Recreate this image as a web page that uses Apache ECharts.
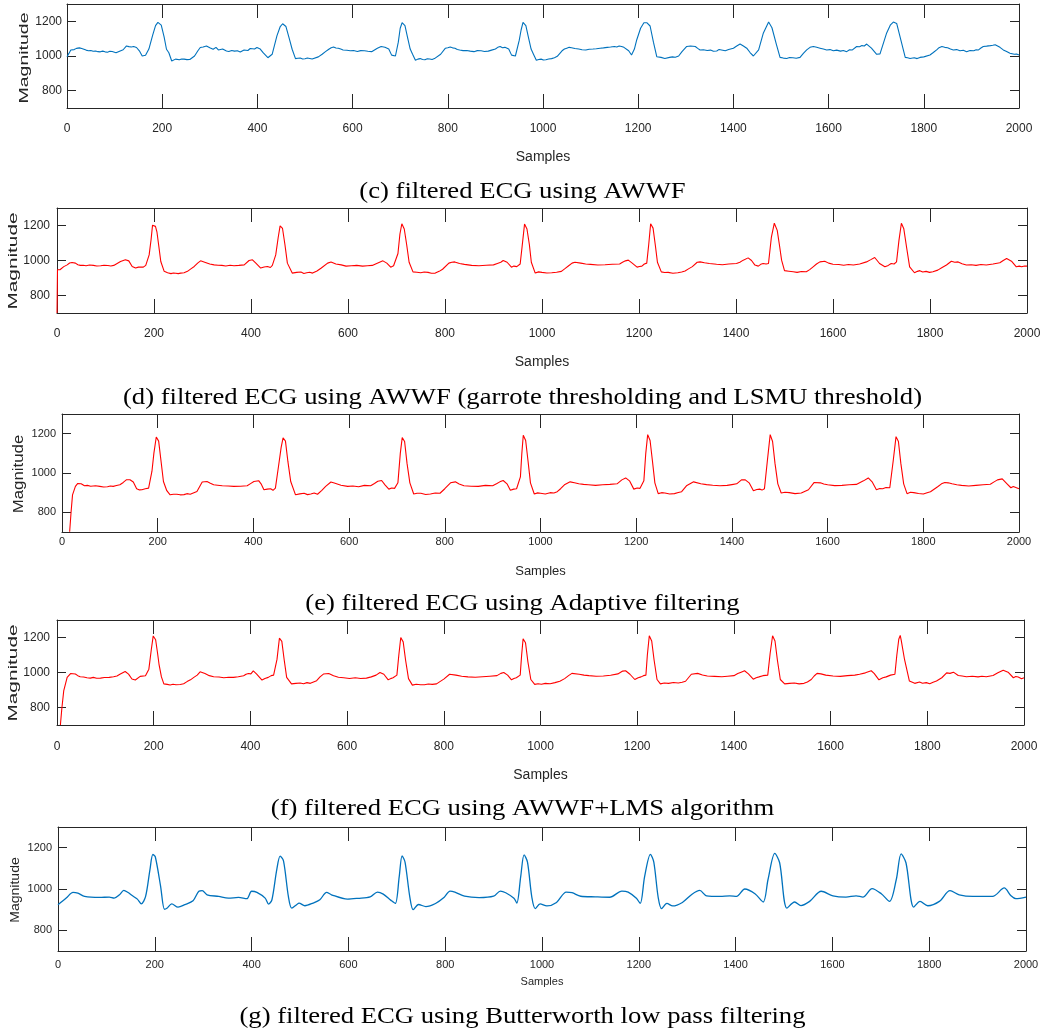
<!DOCTYPE html>
<html>
<head>
<meta charset="utf-8">
<script src="https://cdn.jsdelivr.net/npm/echarts@6/dist/echarts.min.js"></script>
<style>
html,body{margin:0;padding:0;background:#fff;}
#chart{width:1045px;height:1034px;}
</style>
</head>
<body>
<div id="chart"></div>
<script>
// ---------- data ----------
const xMin = 0, xMax = 2000, xStep = 200;
const yMin = 700, yMax = 1300;
const yTickValues = [800, 1000, 1200];
const xAxisTitle = 'Samples';
const yAxisTitle = 'Magnitude';
const captions = [
  '(c) filtered ECG using AWWF',
  '(d) filtered ECG using AWWF (garrote thresholding and LSMU threshold)',
  '(e) filtered ECG using Adaptive filtering',
  '(f) filtered ECG using AWWF+LMS algorithm',
  '(g) filtered ECG using Butterworth low pass filtering'
];

const sigC = [[0,996],[4,1015],[8,1035],[15,1037],[20,1044],[26,1047],[31,1043],[35,1040],[40,1034],[45,1030],[50,1032],[55,1027],[60,1029],[65,1025],[70,1024],[75,1028],[80,1024],[85,1022],[90,1027],[95,1026],[99,1022],[103,1019],[108,1025],[112,1032],[118,1036],[125,1058],[130,1054],[135,1052],[140,1055],[146,1049],[152,1030],[158,1000],[165,1004],[172,1040],[180,1120],[186,1175],[191,1194],[198,1178],[204,1110],[209,1039],[214,1019],[220,971],[228,982],[232,979],[236,978],[241,983],[246,982],[252,979],[258,980],[268,1000],[275,1030],[280,1049],[286,1052],[293,1058],[300,1048],[307,1039],[313,1050],[318,1035],[322,1029],[327,1040],[330,1035],[335,1029],[340,1026],[346,1032],[352,1028],[358,1030],[364,1023],[368,1030],[372,1035],[376,1028],[380,1032],[385,1043],[389,1045],[394,1040],[399,1049],[406,1040],[412,1019],[422,990],[431,1010],[441,1116],[448,1170],[453,1186],[460,1170],[467,1100],[473,1039],[480,985],[485,987],[490,988],[495,983],[500,984],[505,988],[510,986],[515,983],[519,985],[528,995],[536,1010],[543,1025],[550,1039],[555,1048],[560,1052],[565,1046],[570,1045],[575,1040],[580,1035],[588,1033],[595,1030],[602,1032],[610,1026],[617,1031],[625,1030],[632,1027],[640,1025],[646,1035],[652,1045],[660,1055],[668,1050],[676,1040],[682,1005],[690,1000],[696,1080],[700,1160],[704,1192],[710,1175],[716,1100],[721,1040],[726,1010],[732,975],[737,982],[742,985],[747,980],[752,978],[757,984],[762,983],[767,980],[772,985],[785,1010],[795,1045],[800,1048],[805,1052],[810,1047],[815,1045],[820,1038],[825,1035],[832,1031],[840,1032],[847,1028],[855,1025],[862,1031],[870,1030],[877,1026],[885,1028],[892,1034],[900,1040],[905,1050],[910,1055],[915,1048],[920,1050],[928,1040],[934,1005],[942,1000],[950,1090],[954,1150],[958,1194],[964,1175],[970,1100],[975,1040],[980,1010],[986,975],[991,980],[996,982],[1001,977],[1006,978],[1012,983],[1018,985],[1024,990],[1030,998],[1040,1030],[1045,1040],[1050,1045],[1055,1050],[1060,1048],[1067,1043],[1075,1040],[1082,1036],[1090,1035],[1097,1039],[1105,1040],[1112,1042],[1120,1045],[1127,1047],[1135,1050],[1142,1052],[1150,1055],[1155,1052],[1160,1058],[1165,1055],[1170,1050],[1180,1030],[1186,1006],[1192,1040],[1197,1094],[1205,1160],[1212,1192],[1218,1192],[1225,1173],[1232,1080],[1239,996],[1243,986],[1248,992],[1252,990],[1256,986],[1260,990],[1266,992],[1272,995],[1278,993],[1285,1000],[1292,1025],[1302,1055],[1310,1058],[1320,1055],[1325,1044],[1330,1035],[1337,1036],[1345,1032],[1352,1034],[1358,1027],[1365,1029],[1370,1038],[1375,1035],[1379,1026],[1383,1030],[1390,1037],[1400,1045],[1407,1058],[1414,1069],[1421,1058],[1428,1045],[1435,1020],[1442,1000],[1453,1035],[1463,1133],[1474,1196],[1481,1163],[1490,1070],[1498,992],[1505,988],[1512,986],[1518,991],[1525,990],[1532,987],[1540,992],[1547,1015],[1554,1035],[1561,1050],[1568,1055],[1575,1050],[1582,1045],[1589,1040],[1596,1035],[1603,1037],[1610,1030],[1617,1034],[1625,1028],[1631,1032],[1638,1025],[1644,1036],[1650,1035],[1659,1055],[1665,1053],[1670,1060],[1675,1058],[1680,1069],[1690,1045],[1701,1010],[1708,1012],[1722,1133],[1730,1180],[1736,1196],[1743,1188],[1752,1090],[1761,992],[1766,990],[1771,986],[1775,995],[1780,990],[1786,985],[1792,992],[1800,995],[1813,1006],[1820,1020],[1827,1035],[1832,1048],[1838,1055],[1844,1050],[1850,1048],[1856,1040],[1862,1035],[1869,1037],[1876,1030],[1883,1033],[1890,1025],[1897,1032],[1905,1030],[1910,1036],[1915,1035],[1920,1046],[1925,1055],[1932,1057],[1940,1060],[1945,1062],[1950,1065],[1955,1058],[1960,1050],[1967,1035],[1974,1026],[1981,1016],[1990,1010],[1995,1012],[2000,1006]];

const sigD = [[0,700],[1,947],[6,947],[14,965],[21,975],[26,986],[31,989],[38,985],[43,976],[48,972],[54,973],[60,970],[67,974],[75,972],[82,969],[90,970],[97,973],[105,971],[111,969],[117,972],[124,983],[131,994],[141,1004],[148,998],[155,966],[162,957],[168,962],[172,966],[178,962],[183,972],[190,1032],[194,1120],[197,1202],[200,1211],[203,1195],[206,1164],[210,1080],[214,994],[221,938],[228,930],[235,925],[240,929],[245,927],[250,925],[255,928],[262,930],[269,938],[276,952],[283,966],[290,985],[296,998],[306,989],[315,980],[324,975],[332,973],[340,972],[348,969],[357,973],[365,970],[375,972],[386,975],[396,1000],[403,1004],[410,985],[420,957],[427,963],[434,966],[440,960],[444,972],[451,1032],[456,1130],[460,1198],[465,1183],[470,1090],[475,985],[485,928],[494,932],[503,934],[509,926],[515,930],[521,933],[527,928],[536,940],[545,957],[558,985],[565,991],[575,980],[586,975],[596,968],[607,970],[618,972],[630,968],[640,970],[650,972],[658,982],[665,990],[672,998],[680,985],[688,962],[694,970],[698,968],[703,1040],[707,1150],[711,1210],[716,1180],[721,1090],[726,990],[734,935],[742,933],[750,930],[757,934],[765,932],[772,927],[780,928],[788,938],[795,950],[808,985],[814,990],[820,992],[830,983],[840,978],[855,972],[870,970],[885,973],[900,975],[908,983],[915,990],[920,1000],[928,990],[937,962],[942,968],[948,965],[955,980],[959,1080],[964,1208],[969,1180],[974,1090],[978,990],[986,928],[993,935],[1000,932],[1010,929],[1020,930],[1030,933],[1040,938],[1048,955],[1055,970],[1062,985],[1068,990],[1080,985],[1090,980],[1100,978],[1115,974],[1130,976],[1145,979],[1160,980],[1166,990],[1172,998],[1178,1002],[1186,985],[1196,962],[1201,966],[1206,968],[1211,980],[1216,985],[1220,1090],[1224,1210],[1229,1185],[1234,1080],[1238,990],[1246,935],[1253,931],[1260,932],[1270,927],[1280,930],[1288,934],[1295,940],[1302,952],[1310,965],[1320,990],[1326,992],[1335,987],[1345,983],[1360,979],[1372,976],[1385,980],[1401,983],[1408,990],[1415,1002],[1425,1015],[1432,1000],[1439,974],[1446,968],[1451,978],[1456,983],[1462,980],[1467,983],[1473,1134],[1479,1213],[1485,1172],[1490,1080],[1494,1002],[1500,942],[1509,939],[1518,936],[1526,932],[1535,937],[1545,936],[1552,948],[1559,964],[1566,980],[1573,992],[1583,996],[1591,985],[1600,979],[1612,977],[1622,973],[1632,977],[1642,974],[1655,980],[1669,992],[1678,1005],[1686,1017],[1696,983],[1707,964],[1714,972],[1720,983],[1726,980],[1731,992],[1736,1115],[1741,1213],[1746,1181],[1752,1070],[1758,964],[1768,930],[1774,938],[1779,942],[1785,934],[1792,938],[1799,932],[1806,936],[1816,945],[1825,960],[1834,974],[1844,996],[1851,990],[1858,992],[1866,982],[1875,974],[1885,976],[1895,972],[1905,977],[1916,974],[1930,980],[1944,987],[1951,1000],[1958,1011],[1968,996],[1978,964],[1984,968],[1989,964],[1995,969],[2000,968]];

const sigE = [[16,701],[19,803],[22,889],[28,932],[33,947],[40,945],[47,935],[53,937],[60,933],[70,935],[79,932],[87,929],[95,930],[101,934],[107,932],[114,936],[121,940],[128,952],[135,966],[142,966],[149,954],[156,920],[162,914],[167,915],[174,920],[181,923],[188,1009],[192,1100],[197,1183],[202,1162],[207,1060],[212,957],[219,910],[226,889],[233,892],[240,892],[247,889],[255,890],[261,895],[268,892],[282,906],[293,954],[303,957],[310,948],[317,940],[325,938],[335,935],[347,934],[359,932],[373,933],[387,935],[394,946],[401,957],[411,961],[416,945],[422,915],[429,918],[436,920],[441,912],[446,923],[453,1043],[458,1130],[462,1179],[467,1162],[472,1060],[478,957],[488,889],[497,894],[506,897],[513,890],[520,893],[527,898],[534,892],[543,912],[551,932],[562,954],[569,949],[583,938],[597,932],[608,934],[620,930],[632,937],[645,935],[653,947],[660,958],[668,962],[675,940],[683,918],[689,924],[695,922],[702,950],[707,1100],[711,1180],[716,1160],[721,1050],[727,950],[735,893],[742,897],[750,897],[760,891],[770,893],[780,898],[790,897],[800,920],[812,950],[822,955],[830,944],[840,935],[855,933],[870,932],[885,937],[900,935],[908,945],[915,955],[922,962],[930,945],[937,912],[944,918],[950,920],[958,980],[961,1100],[964,1192],[969,1165],[974,1060],[979,950],[987,893],[994,899],[1000,897],[1010,893],[1020,900],[1028,898],[1035,905],[1042,920],[1050,940],[1062,955],[1071,950],[1080,945],[1090,942],[1100,940],[1115,937],[1130,940],[1145,942],[1160,945],[1170,965],[1178,975],[1186,960],[1195,918],[1202,924],[1208,922],[1216,960],[1220,1100],[1224,1195],[1229,1165],[1234,1060],[1239,950],[1246,895],[1253,900],[1260,898],[1270,893],[1280,895],[1288,901],[1295,905],[1305,935],[1320,955],[1335,945],[1347,941],[1360,938],[1375,935],[1390,937],[1400,941],[1410,945],[1420,965],[1428,965],[1436,950],[1445,910],[1452,916],[1458,918],[1463,913],[1468,920],[1474,1060],[1480,1195],[1485,1160],[1490,1050],[1496,945],[1503,898],[1511,902],[1520,900],[1532,895],[1545,898],[1560,915],[1572,952],[1585,950],[1592,944],[1600,940],[1615,936],[1630,937],[1645,940],[1660,942],[1668,952],[1675,960],[1685,975],[1693,955],[1702,915],[1709,921],[1715,920],[1722,926],[1730,925],[1737,1060],[1743,1185],[1748,1160],[1753,1050],[1759,945],[1766,895],[1773,902],[1780,900],[1790,896],[1800,893],[1808,900],[1815,905],[1830,930],[1838,945],[1845,952],[1852,950],[1860,945],[1870,940],[1880,937],[1895,934],[1910,937],[1925,940],[1940,943],[1948,955],[1955,965],[1965,970],[1975,945],[1983,925],[1988,931],[1992,928],[1996,924],[2000,920]];

const sigF = [[7,700],[10,794],[14,897],[21,972],[28,994],[38,991],[43,982],[48,976],[55,974],[62,970],[69,968],[75,972],[82,967],[90,968],[98,971],[108,972],[117,976],[124,980],[131,991],[141,1006],[148,991],[155,963],[162,957],[172,978],[183,981],[190,1019],[195,1130],[199,1209],[204,1187],[208,1110],[211,1047],[216,975],[221,935],[228,932],[234,929],[240,933],[246,930],[255,931],[262,936],[269,948],[276,958],[283,972],[290,985],[296,1004],[306,994],[315,982],[324,976],[335,974],[345,970],[355,973],[365,972],[375,976],[386,981],[391,990],[396,994],[401,992],[406,1009],[413,991],[424,957],[430,966],[437,972],[443,982],[448,985],[455,1075],[460,1196],[465,1178],[470,1070],[475,972],[485,935],[494,938],[503,940],[510,936],[517,942],[524,938],[537,953],[544,975],[551,991],[562,994],[572,981],[582,973],[593,970],[605,966],[617,970],[628,966],[640,968],[650,975],[660,985],[668,1000],[676,990],[685,958],[690,965],[695,970],[703,985],[707,1100],[711,1200],[716,1175],[721,1070],[727,965],[735,928],[743,933],[752,930],[760,930],[768,934],[776,932],[785,935],[792,948],[800,962],[812,990],[825,985],[837,979],[850,975],[865,973],[880,976],[895,979],[910,982],[918,995],[924,1000],[932,985],[940,958],[945,966],[950,970],[958,985],[961,1100],[964,1192],[969,1170],[974,1060],[980,960],[988,932],[995,936],[1002,933],[1010,938],[1020,936],[1030,942],[1040,950],[1050,965],[1058,982],[1065,995],[1080,990],[1090,985],[1100,982],[1115,979],[1130,980],[1145,984],[1160,992],[1170,1008],[1176,1010],[1185,990],[1195,960],[1202,970],[1208,975],[1213,982],[1218,985],[1221,1100],[1225,1210],[1230,1180],[1235,1070],[1241,960],[1248,935],[1256,940],[1265,938],[1275,943],[1285,940],[1293,944],[1300,950],[1306,970],[1312,990],[1325,995],[1335,986],[1345,980],[1360,978],[1375,976],[1387,979],[1400,982],[1408,994],[1415,1002],[1422,1010],[1430,992],[1440,962],[1446,970],[1452,975],[1460,982],[1470,985],[1475,1110],[1480,1210],[1485,1180],[1490,1070],[1496,960],[1505,935],[1515,938],[1525,940],[1535,935],[1545,938],[1552,946],[1560,960],[1566,980],[1572,995],[1580,992],[1590,985],[1605,980],[1620,978],[1635,982],[1650,985],[1660,990],[1672,998],[1684,1010],[1690,995],[1700,958],[1708,970],[1715,975],[1724,985],[1733,990],[1737,1100],[1741,1190],[1744,1212],[1746,1185],[1753,1073],[1763,951],[1774,938],[1784,946],[1790,939],[1798,942],[1805,936],[1812,944],[1819,951],[1830,970],[1840,998],[1847,995],[1854,1002],[1864,983],[1872,980],[1881,976],[1893,979],[1905,975],[1913,979],[1922,976],[1936,983],[1946,998],[1957,1013],[1967,1002],[1978,970],[1983,977],[1988,974],[1995,964],[2000,970]];

const sigG = [[0,924],[17,956],[31,984],[41,980],[55,964],[86,959],[106,961],[116,956],[127,972],[136,993],[144,984],[154,967],[164,951],[172,928],[181,964],[190,1094],[196,1167],[201,1156],[212,1013],[220,902],[225,907],[235,928],[248,912],[262,924],[279,943],[291,989],[298,992],[308,972],[332,964],[352,956],[373,959],[390,953],[400,989],[411,984],[428,956],[435,927],[442,948],[452,1094],[459,1159],[466,1135],[476,964],[483,907],[493,924],[498,932],[510,919],[527,932],[541,948],[555,984],[565,972],[598,951],[620,955],[645,962],[660,985],[672,975],[688,945],[697,930],[705,1060],[711,1160],[717,1130],[727,960],[734,900],[745,925],[760,915],[780,930],[798,960],[810,990],[820,985],[840,965],[870,958],[900,965],[914,990],[925,982],[942,955],[948,932],[956,1060],[963,1165],[970,1130],[979,960],[986,905],[996,928],[1010,918],[1030,935],[1050,985],[1062,982],[1080,965],[1110,962],[1140,960],[1165,990],[1178,985],[1195,955],[1203,930],[1212,1060],[1224,1168],[1231,1130],[1240,960],[1247,905],[1258,930],[1270,918],[1290,935],[1310,975],[1326,993],[1340,967],[1368,964],[1388,967],[1402,964],[1419,1000],[1440,977],[1457,937],[1467,1046],[1481,1172],[1491,1127],[1506,907],[1522,937],[1535,920],[1553,940],[1577,989],[1601,967],[1628,961],[1649,967],[1663,961],[1682,1002],[1701,977],[1718,940],[1732,1046],[1742,1170],[1752,1127],[1768,912],[1781,940],[1797,919],[1821,940],[1843,992],[1862,972],[1890,964],[1931,964],[1955,1005],[1969,967],[1979,953],[2000,961]];

const signals = [sigC, sigD, sigE, sigF, sigG];

// ---------- layout & styles ----------
const BLUE = '#0072BD', RED = '#FF0000', AX = '#262626';
const SANS = "'Liberation Sans',Arial,sans-serif";
const SERIF = "'Liberation Serif','Times New Roman',serif";
const layout = [
  {left:67, top:4,   width:952, height:104, color:BLUE, smooth:false, lw:1.1, ts:12, xm:15, ym:5, ns:14, ng:42, magX:24, magY:58,  magS:13, magK:1.5,  capY:192},
  {left:57, top:208, width:970, height:105, color:RED,  smooth:false, lw:1.1, ts:12, xm:15, ym:7, ns:14, ng:42, magX:13, magY:261, magS:13, magK:1.6,  capY:398},
  {left:62, top:414, width:957, height:118, color:RED,  smooth:false, lw:1.1, ts:11, xm:4,  ym:6, ns:13, ng:33, magX:19, magY:474, magS:14, magK:1.2,  capY:604},
  {left:57, top:620, width:967, height:105, color:RED,  smooth:false, lw:1.1, ts:12, xm:16, ym:7, ns:14, ng:43, magX:13, magY:673, magS:13, magK:1.6,  capY:809},
  {left:58, top:827, width:968, height:124, color:BLUE, smooth:0.3,   lw:1.3, ts:11, xm:8,  ym:6, ns:11, ng:25, magX:15, magY:890, magS:13, magK:1.08, capY:1017}
];

const plain = v => String(v);
const grid = [], xAxis = [], yAxis = [], series = [], graphic = [];
layout.forEach((L, i) => {
  grid.push({left:L.left, top:L.top, width:L.width, height:L.height, containLabel:false});
  const line = {show:true, onZero:false, lineStyle:{color:AX, width:1}};
  const xTick = {show:true, inside:true, length:14, lineStyle:{color:AX, width:1}};
  const yTick = {show:true, inside:true, length:9, lineStyle:{color:AX, width:1}, customValues:yTickValues};
  xAxis.push({gridIndex:i, type:'value', position:'bottom', min:xMin, max:xMax, interval:xStep,
    axisLine:line, axisTick:xTick, splitLine:{show:false},
    axisLabel:{margin:L.xm, color:AX, fontFamily:SANS, fontSize:L.ts, formatter:plain},
    name:xAxisTitle, nameLocation:'middle', nameGap:L.ng,
    nameTextStyle:{color:AX, fontFamily:SANS, fontSize:L.ns}});
  xAxis.push({gridIndex:i, type:'value', position:'top', min:xMin, max:xMax, interval:xStep,
    axisLine:line, axisTick:xTick, splitLine:{show:false}, axisLabel:{show:false}});
  yAxis.push({gridIndex:i, type:'value', position:'left', min:yMin, max:yMax,
    axisLine:line, axisTick:yTick, splitLine:{show:false},
    axisLabel:{margin:L.ym, color:AX, fontFamily:SANS, fontSize:L.ts, customValues:yTickValues, formatter:plain}});
  yAxis.push({gridIndex:i, type:'value', position:'right', min:yMin, max:yMax,
    axisLine:line, axisTick:yTick, splitLine:{show:false}, axisLabel:{show:false}});
  series.push({type:'line', xAxisIndex:2*i, yAxisIndex:2*i, data:signals[i],
    showSymbol:false, smooth:L.smooth, clip:true, animation:false,
    lineStyle:{color:L.color, width:L.lw}, itemStyle:{color:L.color}});
  graphic.push({type:'text', x:L.magX, y:L.magY, rotation:Math.PI/2, scaleX:L.magK, scaleY:1,
    style:{text:yAxisTitle, fill:AX, fontFamily:SANS, fontSize:L.magS,
      align:'center', verticalAlign:'middle', textAlign:'center', textVerticalAlign:'middle'}});
  graphic.push({type:'text', x:522.5, y:L.capY, scaleX:1.11, scaleY:1,
    style:{text:captions[i], fill:'#000', fontFamily:SERIF, fontSize:24,
      align:'center', verticalAlign:'middle', textAlign:'center', textVerticalAlign:'middle'}});
});

const chart = echarts.init(document.getElementById('chart'), null, {renderer:'canvas'});
chart.setOption({animation:false, backgroundColor:'#fff', grid, xAxis, yAxis, series, graphic});
</script>
</body>
</html>
